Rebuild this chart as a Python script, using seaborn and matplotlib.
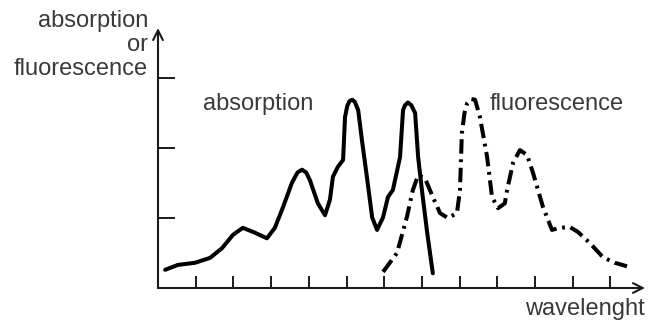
import matplotlib
matplotlib.use('Agg')
import matplotlib.pyplot as plt
import numpy as np
import pandas as pd
import seaborn as sns

# absorption curve (solid) in tick units
abs_x = [0.19, 0.53, 0.98, 1.38, 1.70, 1.99, 2.25, 2.57, 2.89, 3.10, 3.32, 3.55, 3.70, 3.82,
         3.93, 4.03, 4.24, 4.43, 4.56, 4.64, 4.77, 4.91, 4.96, 5.02, 5.08, 5.15, 5.22, 5.31,
         5.41, 5.54, 5.68, 5.81, 5.97, 6.10, 6.23, 6.42, 6.50, 6.55, 6.63, 6.72, 6.82, 6.90,
         7.00, 7.14, 7.29]
abs_y = [0.26, 0.33, 0.36, 0.43, 0.57, 0.76, 0.86, 0.79, 0.71, 0.86, 1.16, 1.50, 1.65, 1.69,
         1.65, 1.54, 1.21, 1.04, 1.26, 1.59, 1.73, 1.83, 2.44, 2.60, 2.67, 2.69, 2.66, 2.54,
         2.11, 1.59, 1.01, 0.83, 1.01, 1.30, 1.40, 1.87, 2.54, 2.61, 2.65, 2.61, 2.50, 1.87,
         1.40, 0.79, 0.21]

# fluorescence curve (dash-dot)
fl_x = [5.97, 6.34, 6.60, 6.76, 6.90, 7.08, 7.29, 7.48, 7.69, 7.93, 8.01, 8.06, 8.13, 8.20,
        8.30, 8.41, 8.54, 8.73, 8.86, 9.02, 9.20, 9.26, 9.42, 9.60, 9.79, 9.95, 10.21, 10.45,
        10.66, 10.93, 11.14, 11.46, 11.80, 12.12, 12.44]
fl_y = [0.23, 0.50, 1.01, 1.40, 1.61, 1.57, 1.30, 1.07, 1.00, 1.07, 1.40, 2.21, 2.50, 2.64,
        2.70, 2.69, 2.44, 1.87, 1.30, 1.14, 1.21, 1.40, 1.79, 1.97, 1.90, 1.64, 1.16, 0.83,
        0.86, 0.87, 0.80, 0.64, 0.44, 0.36, 0.31]

x_ticks = list(range(1, 13))
y_ticks = [1, 2, 3]

df_abs = pd.DataFrame({'x': abs_x, 'y': abs_y})
df_fl = pd.DataFrame({'x': fl_x, 'y': fl_y})

sns.set_style('white')
plt.rcParams['font.family'] = ['Liberation Sans', 'DejaVu Sans']

fig = plt.figure(figsize=(6.5, 3.27), dpi=100)
ax = fig.add_axes([158/650, 39/327, 487/650, 260/327])

lw = 2.9
sns.lineplot(data=df_abs, x='x', y='y', ax=ax, color='black', linewidth=lw,
             estimator=None, sort=False, solid_capstyle='round', solid_joinstyle='round')
sns.lineplot(data=df_fl, x='x', y='y', ax=ax, color='black', linewidth=lw,
             estimator=None, sort=False, dash_joinstyle='round')
ax.lines[-1].set_dashes([3.6, 1.4, 0.7, 1.4])

ax.set_xlim(0, 487/37.7)
ax.set_ylim(0, 260/70)
ax.set_xticks(x_ticks)
ax.set_yticks(y_ticks)
ax.set_xticklabels([])
ax.set_yticklabels([])
ax.set_xlabel('')
ax.set_ylabel('')
ax.tick_params(axis='x', direction='in', length=8.6, width=1.4, color='#1a1a1a', bottom=True)
ax.tick_params(axis='y', direction='in', length=12, width=1.4, color='#1a1a1a', left=True)
for s in ['top', 'right', 'left', 'bottom']:
    ax.spines[s].set_visible(False)

# axes drawn as arrows
arrow = dict(arrowstyle='->,head_length=0.7,head_width=0.35', lw=1.5, color='#1a1a1a',
             shrinkA=0, shrinkB=0)
ax.annotate('', xy=(1, 0), xytext=(0, 0), xycoords='axes fraction', arrowprops=arrow)
ax.annotate('', xy=(0, 1), xytext=(0, 0), xycoords='axes fraction', arrowprops=arrow)

txt = '#3a3a3a'
fig.text(203/650, 1 - 104/327, 'absorption', fontsize=17, color=txt, ha='left', va='center')
fig.text(490/650, 1 - 104/327, 'fluorescence', fontsize=17, color=txt, ha='left', va='center')
fig.text(645/650, 1 - 309/327, 'wavelenght', fontsize=17, color=txt, ha='right', va='center')
fig.text(148/650, 1 - 45/327, 'absorption\nor\nfluorescence', fontsize=17, color=txt,
         ha='right', va='center', multialignment='right', linespacing=1.12)

fig.savefig('out.png', dpi=100)
